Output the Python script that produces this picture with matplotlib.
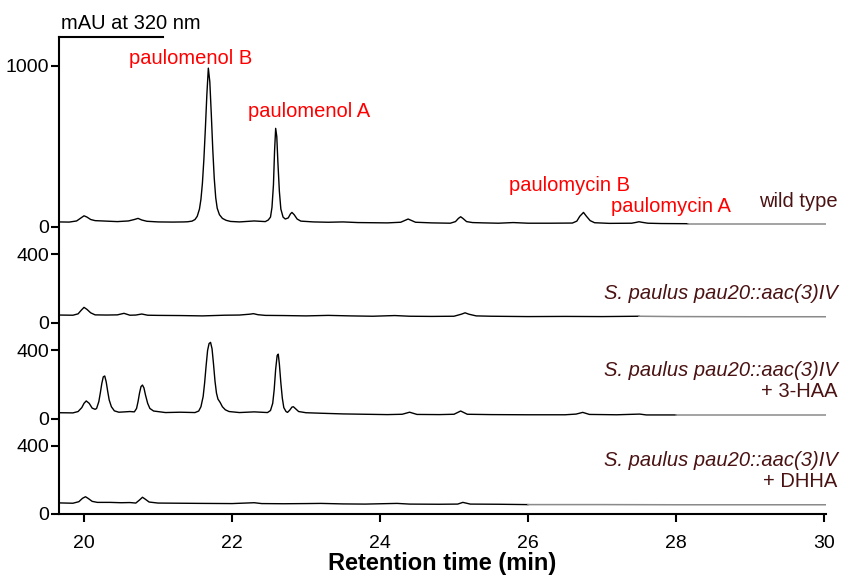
import numpy as np
import matplotlib
matplotlib.use('Agg')
import matplotlib.pyplot as plt

plt.rcParams['font.family'] = ['Liberation Sans', 'DejaVu Sans']

# wild type (mAU)
t_wt = [19.66, 19.80, 19.90, 19.95, 20.00, 20.04, 20.09, 20.15, 20.30, 20.45, 20.60, 20.68,
        20.73, 20.78, 20.85, 21.00, 21.20, 21.35, 21.40, 21.46, 21.50, 21.53, 21.56, 21.58,
        21.60, 21.62, 21.64, 21.66, 21.68, 21.70, 21.72, 21.74, 21.76, 21.78, 21.80, 21.83,
        21.87, 21.92, 21.98, 22.10, 22.30, 22.45, 22.49, 22.52, 22.54, 22.56, 22.575, 22.59,
        22.605, 22.62, 22.64, 22.66, 22.69, 22.72, 22.76, 22.79, 22.81, 22.84, 22.88, 22.93,
        23.10, 23.30, 23.50, 23.70, 23.90, 24.10, 24.28, 24.34, 24.38, 24.42, 24.48, 24.70,
        24.95, 25.02, 25.06, 25.09, 25.12, 25.17, 25.25, 25.40, 25.60, 25.80, 26.00, 26.30,
        26.60, 26.66, 26.70, 26.75, 26.79, 26.84, 26.90, 27.10, 27.40, 27.46, 27.50, 27.55,
        27.62, 27.80, 28.16, 28.50, 29.00, 29.50, 30.05]
y_wt = [30, 29, 36, 52, 68, 60, 45, 38, 35, 32, 36, 45,
        52, 42, 34, 30, 29, 30, 31, 35, 45, 65, 110, 170,
        270, 420, 610, 820, 985, 900, 700, 480, 300, 180, 115, 75,
        52, 40, 33, 30, 36, 32, 42, 60, 120, 260, 470, 611,
        560, 400, 220, 110, 60, 48, 55, 80, 89, 75, 48, 35,
        30, 28, 30, 26, 25, 24, 28, 40, 48, 40, 28, 24,
        22, 32, 52, 62, 52, 32, 26, 24, 22, 26, 22, 22,
        23, 35, 65, 89, 65, 38, 25, 21, 22, 27, 31, 27,
        22, 20, 19, 19, 19, 19, 19]

# S. paulus pau20::aac(3)IV
t_ko = [19.66, 19.85, 19.92, 19.96, 20.00, 20.04, 20.09, 20.15, 20.30, 20.45, 20.54, 20.62,
        20.70, 20.78, 20.86, 21.00, 21.30, 21.60, 21.90, 22.10, 22.24, 22.29, 22.35, 22.45,
        22.70, 23.00, 23.30, 23.60, 23.90, 24.20, 24.40, 24.70, 25.00, 25.10, 25.15, 25.20,
        25.30, 25.50, 26.00, 26.50, 27.00, 27.50, 28.00, 29.00, 30.05]
y_ko = [45, 44, 52, 72, 90, 78, 58, 46, 45, 46, 55, 44,
        45, 51, 44, 43, 42, 40, 44, 45, 50, 53, 47, 43,
        42, 40, 43, 40, 38, 42, 38, 37, 38, 50, 58, 50,
        40, 38, 36, 37, 36, 38, 36, 35, 35]

# + 3-HAA
t_haa = [19.66, 19.85, 19.92, 19.97, 20.00, 20.03, 20.07, 20.11, 20.15, 20.17, 20.20, 20.22,
         20.24, 20.26, 20.28, 20.30, 20.32, 20.34, 20.37, 20.41, 20.47, 20.55, 20.62, 20.68,
         20.71, 20.73, 20.75, 20.77, 20.79, 20.81, 20.83, 20.86, 20.89, 20.94, 21.10, 21.30,
         21.50, 21.55, 21.58, 21.61, 21.63, 21.65, 21.67, 21.69, 21.71, 21.73, 21.75, 21.77,
         21.79, 21.81, 21.84, 21.87, 21.91, 21.96, 22.10, 22.30, 22.48, 22.52, 22.55, 22.57,
         22.59, 22.61, 22.625, 22.64, 22.66, 22.68, 22.70, 22.73, 22.75, 22.78, 22.81, 22.83,
         22.86, 22.90, 23.00, 23.20, 23.50, 23.80, 24.10, 24.30, 24.40, 24.50, 24.80, 25.00,
         25.09, 25.18, 25.50, 26.00, 26.50, 26.65, 26.74, 26.83, 27.20, 27.51, 27.60, 28.00,
         29.00, 30.03]
y_haa = [35, 34, 42, 65, 90, 104, 90, 62, 55, 60, 100, 150,
         205, 245, 250, 215, 160, 110, 70, 46, 38, 40, 42, 40,
         60, 100, 150, 188, 197, 180, 140, 90, 60, 45, 36, 38,
         36, 45, 70, 130, 210, 310, 400, 440, 447, 410, 320, 220,
         150, 115, 95, 70, 52, 42, 36, 40, 36, 48, 90, 170,
         290, 370, 378, 320, 210, 120, 65, 42, 37, 50, 68, 70,
         58, 42, 35, 32, 28, 26, 24, 26, 38, 25, 24, 26,
         45, 26, 24, 23, 23, 27, 37, 25, 23, 27, 22, 22,
         22, 22]

# + DHHA
t_dhha = [19.66, 19.85, 19.93, 19.98, 20.02, 20.06, 20.11, 20.18, 20.35, 20.50, 20.62, 20.70,
          20.75, 20.79, 20.83, 20.88, 21.00, 21.30, 21.60, 22.00, 22.30, 22.40, 22.70, 23.00,
          23.20, 23.50, 23.80, 24.23, 24.40, 24.80, 25.05, 25.12, 25.22, 25.60, 26.00, 26.50,
          27.00, 28.00, 29.00, 30.05]
y_dhha = [65, 63, 72, 92, 101, 90, 74, 68, 68, 66, 67, 64,
          82, 98, 86, 70, 64, 63, 62, 61, 66, 61, 60, 61,
          62, 59, 58, 62, 58, 57, 58, 68, 58, 57, 55, 55,
          55, 54, 54, 54]

traces = [(t_wt, y_wt), (t_ko, y_ko), (t_haa, y_haa), (t_dhha, y_dhha)]
offsets = [1682, 1120, 558, 0]
scales = [0.943, 1, 1, 1]
gray_from = [28.16, 27.5, 28.0, 26.0]
tick_top = [1000, 400, 400, 400]

fig = plt.figure(figsize=(8.43, 5.75), dpi=100)
ax = fig.add_axes([0.070, 0.1061, 0.9098, 0.8301])

for (t, y), off, sc, g in zip(traces, offsets, scales, gray_from):
    t = np.array(t)
    y = np.array(y) * sc + off
    m1 = t <= g
    m2 = t >= g
    ax.plot(t[m1], y[m1], color='black', lw=1.0)
    ax.plot(t[m2], y[m2], color='#8a8a8a', lw=1.1)

yt, yl = [], []
for off, sc, top in zip(offsets, scales, tick_top):
    yt += [off, off + top * sc]
    yl += ['0', str(top)]
ax.set_yticks(yt)
ax.set_yticklabels(yl)

ax.set_xlim(19.662, 30.027)
ax.set_ylim(0, 2795)
ax.set_xticks([20, 22, 24, 26, 28, 30])
ax.tick_params(axis='both', labelsize=14, width=1.5)
ax.tick_params(axis='y', length=6, pad=1)
ax.tick_params(axis='x', length=6, pad=9)
for s in ['left', 'bottom', 'top']:
    ax.spines[s].set_linewidth(1.5)
ax.spines['right'].set_visible(False)
ax.spines['top'].set_bounds(19.662, 21.07)
ax.set_xlabel('Retention time (min)', fontsize=17, fontweight='bold', labelpad=0)

ax.text(19.69, 2875, 'mAU at 320 nm', fontsize=14.5, ha='left', va='center')

red = '#ff0000'
ax.text(21.44, 2670, 'paulomenol B', color=red, fontsize=14.5, ha='center', va='center')
ax.text(23.04, 2359, 'paulomenol A', color=red, fontsize=14.5, ha='center', va='center')
ax.text(26.56, 1926, 'paulomycin B', color=red, fontsize=14.5, ha='center', va='center')
ax.text(27.93, 1799, 'paulomycin A', color=red, fontsize=14.5, ha='center', va='center')

brown = '#4a1212'
ax.text(30.19, 1828, 'wild type', color=brown, fontsize=14.5, ha='right', va='center')
ax.text(30.18, 1292, 'S. paulus pau20::aac(3)IV', color=brown, fontsize=14.5,
        style='italic', ha='right', va='center')
ax.text(30.18, 843, 'S. paulus pau20::aac(3)IV', color=brown, fontsize=14.5,
        style='italic', ha='right', va='center')
ax.text(30.18, 716, '+ 3-HAA', color=brown, fontsize=14.5, ha='right', va='center')
ax.text(30.18, 316, 'S. paulus pau20::aac(3)IV', color=brown, fontsize=14.5,
        style='italic', ha='right', va='center')
ax.text(30.18, 189, '+ DHHA', color=brown, fontsize=14.5, ha='right', va='center')

fig.savefig('out.png', dpi=100)
